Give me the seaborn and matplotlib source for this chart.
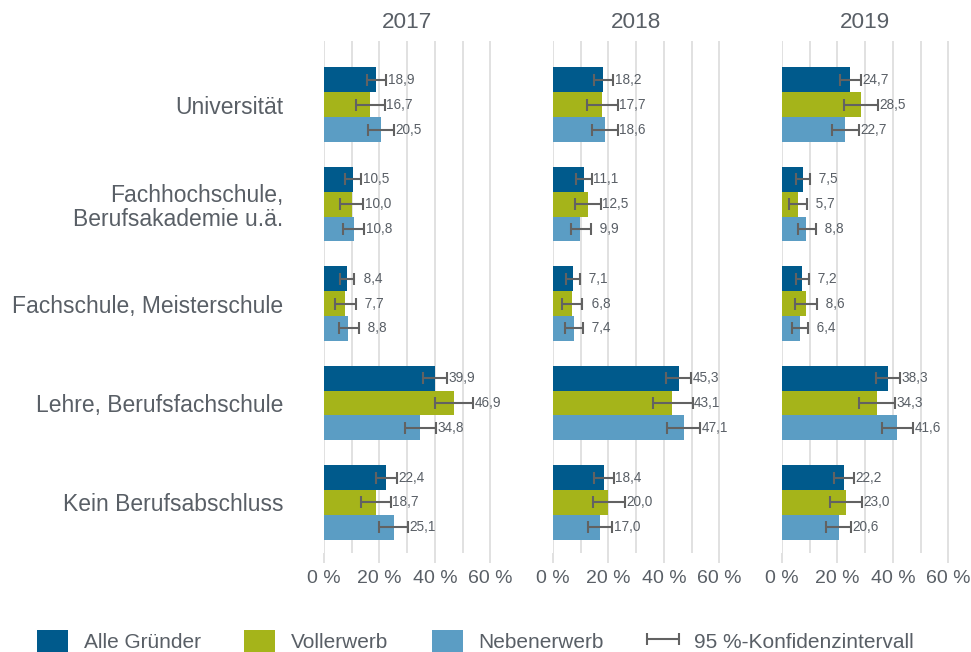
import pandas as pd
import matplotlib.pyplot as plt
import seaborn as sns
from matplotlib.patches import Patch
from matplotlib.container import ErrorbarContainer
from matplotlib.legend_handler import HandlerErrorbar
import matplotlib.transforms as mtransforms

sns.set_theme(style="white")
plt.rcParams["font.family"] = ["Liberation Sans", "DejaVu Sans"]

TEXT = "#595f66"
GRID = "#dcdcdc"
ERR = "#626262"

categories = ["Universität", "Fachhochschule,\nBerufsakademie u.ä.",
              "Fachschule, Meisterschule", "Lehre, Berufsfachschule",
              "Kein Berufsabschluss"]
years = ["2017", "2018", "2019"]
groups = ["Alle Gründer", "Vollerwerb", "Nebenerwerb"]
colors = ["#005a8c", "#a5b41a", "#5b9dc4"]

# Anteile in %
alle_2017 = [18.9, 10.5, 8.4, 39.9, 22.4]
voll_2017 = [16.7, 10.0, 7.7, 46.9, 18.7]
neben_2017 = [20.5, 10.8, 8.8, 34.8, 25.1]
alle_2018 = [18.2, 11.1, 7.1, 45.3, 18.4]
voll_2018 = [17.7, 12.5, 6.8, 43.1, 20.0]
neben_2018 = [18.6, 9.9, 7.4, 47.1, 17.0]
alle_2019 = [24.7, 7.5, 7.2, 38.3, 22.2]
voll_2019 = [28.5, 5.7, 8.6, 34.3, 23.0]
neben_2019 = [22.7, 8.8, 6.4, 41.6, 20.6]

# 95 %-Konfidenzintervalle (untere / obere Grenze)
alle_2017_lo = [15.4, 7.7, 5.8, 35.6, 18.8]
alle_2017_hi = [22.5, 13.4, 10.9, 44.3, 26.2]
voll_2017_lo = [11.6, 5.8, 3.9, 40.1, 13.4]
voll_2017_hi = [22.0, 14.2, 11.4, 53.9, 24.1]
neben_2017_lo = [15.8, 7.0, 5.4, 29.2, 20.0]
neben_2017_hi = [25.4, 14.6, 12.5, 40.4, 30.2]
alle_2018_lo = [14.7, 8.3, 4.8, 40.9, 14.9]
alle_2018_hi = [21.8, 14.1, 9.6, 49.9, 22.0]
voll_2018_lo = [12.3, 7.8, 3.2, 36.1, 14.3]
voll_2018_hi = [23.3, 17.3, 10.6, 50.4, 25.8]
neben_2018_lo = [14.1, 6.4, 4.3, 41.3, 12.6]
neben_2018_hi = [23.3, 13.6, 10.7, 53.2, 21.4]
alle_2019_lo = [21.0, 5.2, 4.9, 34.0, 18.6]
alle_2019_hi = [28.5, 10.0, 9.7, 42.6, 25.8]
voll_2019_lo = [22.2, 2.5, 4.7, 27.8, 17.2]
voll_2019_hi = [34.8, 9.0, 12.6, 40.9, 28.9]
neben_2019_lo = [18.0, 5.6, 3.6, 36.1, 16.0]
neben_2019_hi = [27.7, 12.1, 9.4, 47.3, 25.0]

series = {
    ("2017", "Alle Gründer"): (alle_2017, alle_2017_lo, alle_2017_hi),
    ("2017", "Vollerwerb"): (voll_2017, voll_2017_lo, voll_2017_hi),
    ("2017", "Nebenerwerb"): (neben_2017, neben_2017_lo, neben_2017_hi),
    ("2018", "Alle Gründer"): (alle_2018, alle_2018_lo, alle_2018_hi),
    ("2018", "Vollerwerb"): (voll_2018, voll_2018_lo, voll_2018_hi),
    ("2018", "Nebenerwerb"): (neben_2018, neben_2018_lo, neben_2018_hi),
    ("2019", "Alle Gründer"): (alle_2019, alle_2019_lo, alle_2019_hi),
    ("2019", "Vollerwerb"): (voll_2019, voll_2019_lo, voll_2019_hi),
    ("2019", "Nebenerwerb"): (neben_2019, neben_2019_lo, neben_2019_hi),
}

rows = []
for (year, group), (vals, los, his) in series.items():
    for cat, v, lo, hi in zip(categories, vals, los, his):
        rows.append({"year": year, "cat": cat, "group": group,
                     "value": v, "lo": lo, "hi": hi})
df = pd.DataFrame(rows)


def fmt(v):
    s = f"{v:.1f}".replace(".", ",")
    return ("\u2007" + s) if v < 10 else s


W, H = 971, 652
fig = plt.figure(figsize=(W / 100, H / 100), dpi=100)

left0, step, width = 324, 229, 194
top_px, bottom_px = 40.7, 553
err_handle = None

for i, year in enumerate(years):
    ax = fig.add_axes([(left0 + i * step) / W, (H - bottom_px) / H,
                       width / W, (bottom_px - top_px) / H])
    d = df[df["year"] == year]
    sns.barplot(data=d, x="value", y="cat", hue="group", order=categories,
                hue_order=groups, palette=colors, saturation=1, orient="h",
                width=0.75, errorbar=None, legend=False, linewidth=0, ax=ax)

    for cont, group in zip(ax.containers, groups):
        g = d[d["group"] == group].set_index("cat").loc[categories]
        ys = [p.get_y() + p.get_height() / 2 for p in cont]
        eb = ax.errorbar(g["value"], ys,
                         xerr=[g["value"] - g["lo"], g["hi"] - g["value"]],
                         fmt="none", ecolor=ERR, elinewidth=1.5,
                         capsize=4.2, capthick=1.5, zorder=5)
        if err_handle is None:
            err_handle = eb
        for y, hi, v in zip(ys, g["hi"], g["value"]):
            ax.annotate(fmt(v), (hi, y), xytext=(1, 0),
                        textcoords="offset points", va="center",
                        ha="left", fontsize=9.8, color=TEXT)

    ax.set_xlim(0, 70)
    ax.set_ylim(4.508, -0.643)
    ax.set_xticks([0, 20, 40, 60])
    ax.set_xticklabels([f"{t} %" for t in [0, 20, 40, 60]])
    ax.set_xticks([10, 30, 50], minor=True)
    ax.grid(axis="x", which="both", color=GRID, linewidth=1.2, zorder=0)
    ax.set_axisbelow(True)
    ax.tick_params(axis="x", which="major", length=7.2, width=1.2,
                   color=GRID, labelsize=14, labelcolor=TEXT, pad=5,
                   bottom=True)
    ax.tick_params(axis="x", which="minor", length=0)
    ax.tick_params(axis="y", length=0, pad=29.5, labelsize=16.5,
                   labelcolor=TEXT)
    if i > 0:
        ax.tick_params(axis="y", labelleft=False)
    else:
        for lab in ax.get_yticklabels():
            lab.set_linespacing(1.05)
            lab.set_ha("right")
    ax.set_xlabel("")
    ax.set_ylabel("")
    sns.despine(ax=ax, left=True, bottom=True)

    trans = mtransforms.blended_transform_factory(ax.transData, ax.transAxes)
    ax.text(30, 1 + 18.7 / (bottom_px - top_px), year, transform=trans,
            ha="center", va="center", fontsize=16.2, color=TEXT)

handles = [Patch(facecolor=c, edgecolor="none") for c in colors] + [err_handle]
labels = groups + ["95 %-Konfidenzintervall"]
fig.legend(handles, labels, loc="lower left",
           bbox_to_anchor=(37 / W, 0.0), ncol=4, frameon=False,
           fontsize=15, labelcolor=TEXT, borderpad=0, borderaxespad=0,
           handlelength=1.5, handleheight=1.25, handletextpad=0.75,
           columnspacing=2.08,
           handler_map={ErrorbarContainer: HandlerErrorbar(xerr_size=0.75)})

fig.savefig("out.png", dpi=100)
